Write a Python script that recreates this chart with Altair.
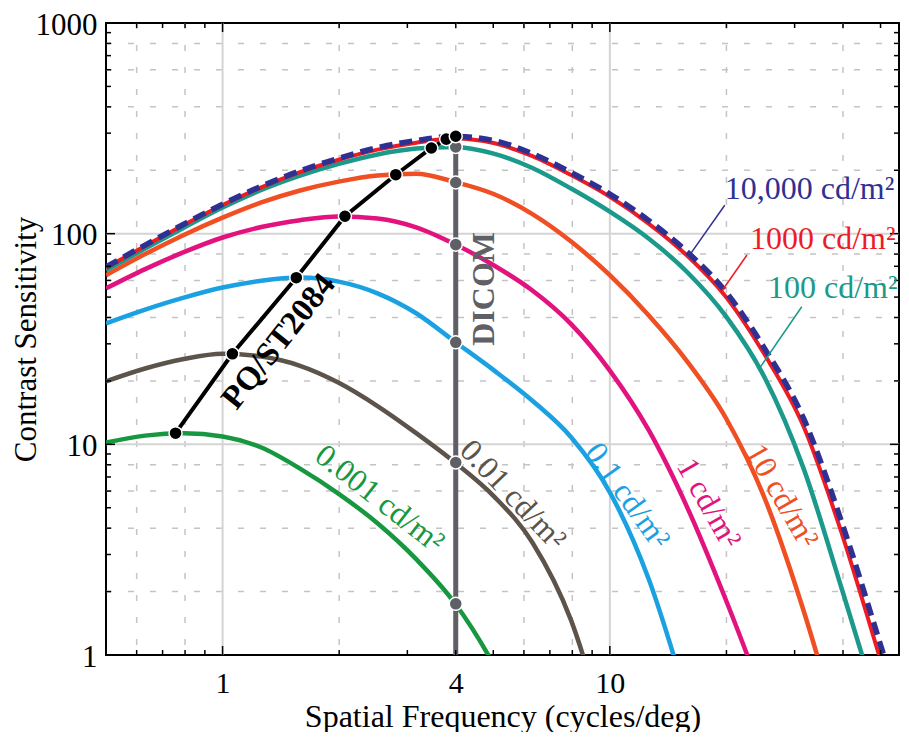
import altair as alt
import pandas as pd

# ---------------- data ----------------
# frequencies sampled at 0.1-decade steps (cycles/deg)
freq_grid = [0.5, 0.631, 0.794, 1.0, 1.259, 1.585, 1.995, 2.512, 3.162, 3.981, 5.012,
             6.31, 7.943, 10.0, 12.59, 15.85, 19.95, 25.12, 31.62, 39.81, 50.12, 56.23]

sens_10000 = [69.5, 88.3, 110.9, 138.0, 167.9, 198.6, 228.0, 255.9, 276.7, 289.7, 276.7,
              239.9, 195.0, 154.2, 115.6, 81.8, 52.8, 28.4, 13.3, 4.2, 1.1, 0.553]
sens_1000 = [68.9, 87.5, 109.9, 136.8, 166.0, 195.9, 224.4, 250.6, 270.4, 283.1, 269.2,
             233.3, 189.7, 149.6, 111.7, 78.5, 50.1, 26.6, 12.2, 3.72, 0.933, 0.468]
sens_100 = [67.0, 84.9, 106.7, 133.0, 161.1, 188.4, 214.3, 237.7, 253.5, 258.2, 239.9,
            205.1, 163.7, 127.1, 94.8, 65.6, 40.5, 20.7, 7.71, 2.03, 0.509]
sens_10 = [63.5, 80.0, 98.6, 119.1, 140.6, 160.3, 176.6, 188.8, 192.3, 175.8, 154.2,
           123.9, 91.8, 63.5, 41.0, 24.7, 13.3, 5.53, 1.63, 0.383]
sens_1 = [55.0, 67.9, 81.7, 95.9, 107.6, 115.9, 120.8, 118.0, 107.2, 89.1, 70.8,
          53.7, 37.2, 22.4, 11.7, 5.01, 1.82, 0.603]
sens_01 = [37.5, 43.6, 49.7, 55.5, 59.8, 61.9, 59.2, 52.1, 41.9, 30.7, 22.5,
           16.1, 10.8, 5.92, 2.30, 0.605]
sens_001 = [19.9, 22.9, 25.4, 26.9, 26.1, 23.6, 19.6, 15.2, 11.3, 8.2, 5.68,
            3.42, 1.46, 0.366]
sens_0001 = [10.2, 11.0, 11.3, 10.9, 9.66, 7.67, 5.82, 4.22, 2.85, 1.76, 0.9, 0.6]
freq_0001 = [0.5, 0.631, 0.794, 1.0, 1.259, 1.585, 1.995, 2.512, 3.162, 3.981, 5.012, 5.62]

pq_freq = [0.756, 1.06, 1.55, 2.07, 2.8, 3.46, 3.78, 4.0]
pq_sens = [11.3, 26.9, 61.8, 121, 190.5, 255, 281, 290]

dicom_freq = 4.0
dicom_line_sens = [1, 290]
dicom_dot_sens = [1.75, 8.2, 30.5, 88.7, 175, 258]

x_label_values = [1, 4, 10]
y_label_values = [1, 10, 100, 1000]
x_minor = [0.6, 0.7, 0.8, 0.9, 2, 3, 4, 5, 6, 7, 8, 9, 20, 30, 40, 50]
x_major = [1, 10]
y_minor = [2, 3, 4, 5, 6, 7, 8, 9, 20, 30, 40, 50, 60, 70, 80, 90, 200, 300, 400, 500, 600, 700, 800, 900]
y_major = [10, 100]
x_grid_dashed = [0.6, 0.8, 2, 4, 6, 8, 20, 40]
x_grid_solid = [1, 10]
y_grid_dashed = [2, 4, 6, 8, 20, 40, 60, 80, 200, 400, 600, 800]
y_grid_solid = [10, 100]

# ---------------- styling ----------------
W, H = 793, 632
FONT = "Liberation Serif"
xs = alt.Scale(type="log", domain=[0.5, 55.8], nice=False)
ys = alt.Scale(type="log", domain=[1, 1000], nice=False)

C10000 = "#2e3192"
C1000 = "#ed1c24"
C100 = "#1b998b"
C10 = "#f04e23"
C1 = "#e2137e"
C01 = "#1ba1e2"
C001 = "#5c534a"
C0001 = "#17973f"
CDICOM = "#5f6066"

AX_X = alt.Axis(
    values=x_label_values, format="d", title="Spatial Frequency (cycles/deg)",
    domain=False, ticks=False, tickSize=0, grid=False, labelOverlap=False, labelFlush=False,
    labelFont=FONT, labelFontSize=30, labelColor="black", labelPadding=37,
    labelBaseline="alphabetic",
    titleFont=FONT, titleFontSize=32, titleFontWeight="normal", titleColor="black",
    titleY=71, titleBaseline="alphabetic")
AX_Y = alt.Axis(
    values=y_label_values, format="d", title="Contrast Sensitivity",
    domain=False, ticks=False, tickSize=0, grid=False, labelOverlap=False, labelFlush=False,
    labelFont=FONT, labelFontSize=31, labelColor="black", labelPadding=9, labelOffset=2,
    titleFont=FONT, titleFontSize=31, titleFontWeight="normal", titleColor="black",
    titleX=-80, titleY=H / 2, titleAngle=270, titleAlign="center", titleBaseline="middle")


def X(field="f"):
    return alt.X(f"{field}:Q", scale=xs, axis=AX_X)


def Y(field="s"):
    return alt.Y(f"{field}:Q", scale=ys, axis=AX_Y)


def curve(s, color, width=4.5, dash=None, f=None):
    f = f if f is not None else freq_grid[:len(s)]
    kw = dict(color=color, strokeWidth=width, interpolate="monotone", clip=True)
    if dash:
        kw["strokeDash"] = dash
    return alt.Chart(pd.DataFrame({"f": f, "s": s})).mark_line(**kw).encode(x=X(), y=Y())


def vrules(vals, **kw):
    return alt.Chart(pd.DataFrame({"f": vals})).mark_rule(**kw).encode(
        x=X(), y=alt.value(0), y2=alt.value(H))


def hrules(vals, **kw):
    return alt.Chart(pd.DataFrame({"s": vals})).mark_rule(**kw).encode(
        y=Y(), x=alt.value(0), x2=alt.value(W))


def xticks(vals, y0, y1):
    return alt.Chart(pd.DataFrame({"f": vals})).mark_rule(color="black", strokeWidth=1.5).encode(
        x=X(), y=alt.value(y0), y2=alt.value(y1))


def yticks(vals, x0, x1):
    return alt.Chart(pd.DataFrame({"s": vals})).mark_rule(color="black", strokeWidth=1.5).encode(
        y=Y(), x=alt.value(x0), x2=alt.value(x1))


def label(f, s, text, color, angle=0, size=32, weight="normal", align="center", baseline="middle"):
    return alt.Chart(pd.DataFrame({"f": [f], "s": [s], "t": [text]})).mark_text(
        font=FONT, fontSize=size, fontWeight=weight, color=color, angle=angle,
        align=align, baseline=baseline).encode(x=X(), y=Y(), text="t:N")


def leader(f1, s1, f2, s2, color):
    return alt.Chart(pd.DataFrame({"f": [f1], "s": [s1], "f2": [f2], "s2": [s2]})).mark_rule(
        color=color, strokeWidth=1.5).encode(x=X(), y=Y(), x2="f2:Q", y2="s2:Q")


grid = [
    vrules(x_grid_dashed, color="#c4c4c4", strokeWidth=1.5, strokeDash=[6, 16]),
    hrules(y_grid_dashed, color="#c4c4c4", strokeWidth=1.5, strokeDash=[6, 16]),
    vrules(x_grid_solid, color="#d4d4d4", strokeWidth=2),
    hrules(y_grid_solid, color="#d4d4d4", strokeWidth=2),
]

ticks = [
    xticks(x_minor, H, H - 5), xticks(x_major, H, H - 9),
    xticks(x_minor, 0, 5), xticks(x_major, 0, 9),
    yticks(y_minor, 0, 5), yticks(y_major, 0, 9),
    yticks(y_minor, W, W - 5), yticks(y_major, W, W - 9),
]

curves = [
    curve(sens_0001, C0001, f=freq_0001),
    curve(sens_001, C001),
    curve(sens_01, C01),
    curve(sens_1, C1),
    curve(sens_10, C10),
    curve(sens_100, C100),
    curve(sens_1000, C1000, width=4),
    curve(sens_10000, C10000, width=5.5, dash=[13, 7]),
]

dicom_line = alt.Chart(pd.DataFrame({"f": [dicom_freq] * 2, "s": dicom_line_sens})).mark_line(
    color=CDICOM, strokeWidth=5, clip=True).encode(x=X(), y=Y())
pq_line = alt.Chart(pd.DataFrame({"f": pq_freq, "s": pq_sens})).mark_line(
    color="black", strokeWidth=4).encode(x=X(), y=Y())
dicom_dots = alt.Chart(pd.DataFrame({"f": [dicom_freq] * len(dicom_dot_sens), "s": dicom_dot_sens})).mark_circle(
    color=CDICOM, stroke="white", strokeWidth=1.5, size=170, opacity=1).encode(x=X(), y=Y())
pq_dots = alt.Chart(pd.DataFrame({"f": pq_freq, "s": pq_sens})).mark_circle(
    color="black", stroke="white", strokeWidth=1.5, size=170, opacity=1).encode(x=X(), y=Y())

labels = [
    label(2.545, 5.52, "0.001 cd/m²", C0001, angle=38),
    label(5.62, 5.76, "0.01 cd/m²", C001, angle=46.5),
    label(11.1, 5.7, "0.1 cd/m²", C01, angle=54.4),
    label(18.0, 5.25, "1 cd/m²", C1, angle=60.4),
    label(27.8, 5.70, "10 cd/m²", C10, angle=60.1),
    label(19.8, 145.7, "10,000 cd/m²", C10000, align="left", baseline="alphabetic"),
    label(23.0, 84.9, "1000 cd/m²", C1000, align="left", baseline="alphabetic"),
    label(25.6, 49.3, "100 cd/m²", C100, align="left", baseline="alphabetic"),
    label(1.395, 30.8, "PQ/ST2084", "black", angle=308.3, size=33, weight="bold"),
    label(4.73, 54.7, "DICOM", CDICOM, angle=270, size=32, weight="bold"),
    leader(19.8, 136.5, 16.1, 79.5, C10000),
    leader(22.6, 79.2, 19.4, 53, C1000),
    leader(31.3, 45, 24.2, 22.6, C100),
]

chart = alt.layer(
    *grid, *curves, dicom_line, pq_line, dicom_dots, pq_dots, *ticks, *labels
).properties(
    width=W, height=H,
    autosize=alt.AutoSizeParams(type="none"),
    padding={"left": 98, "top": 15, "right": 2, "bottom": 77},
).configure_view(stroke="black", strokeWidth=2)

chart.save("out.html", embed_options={"renderer": "svg", "actions": False})
